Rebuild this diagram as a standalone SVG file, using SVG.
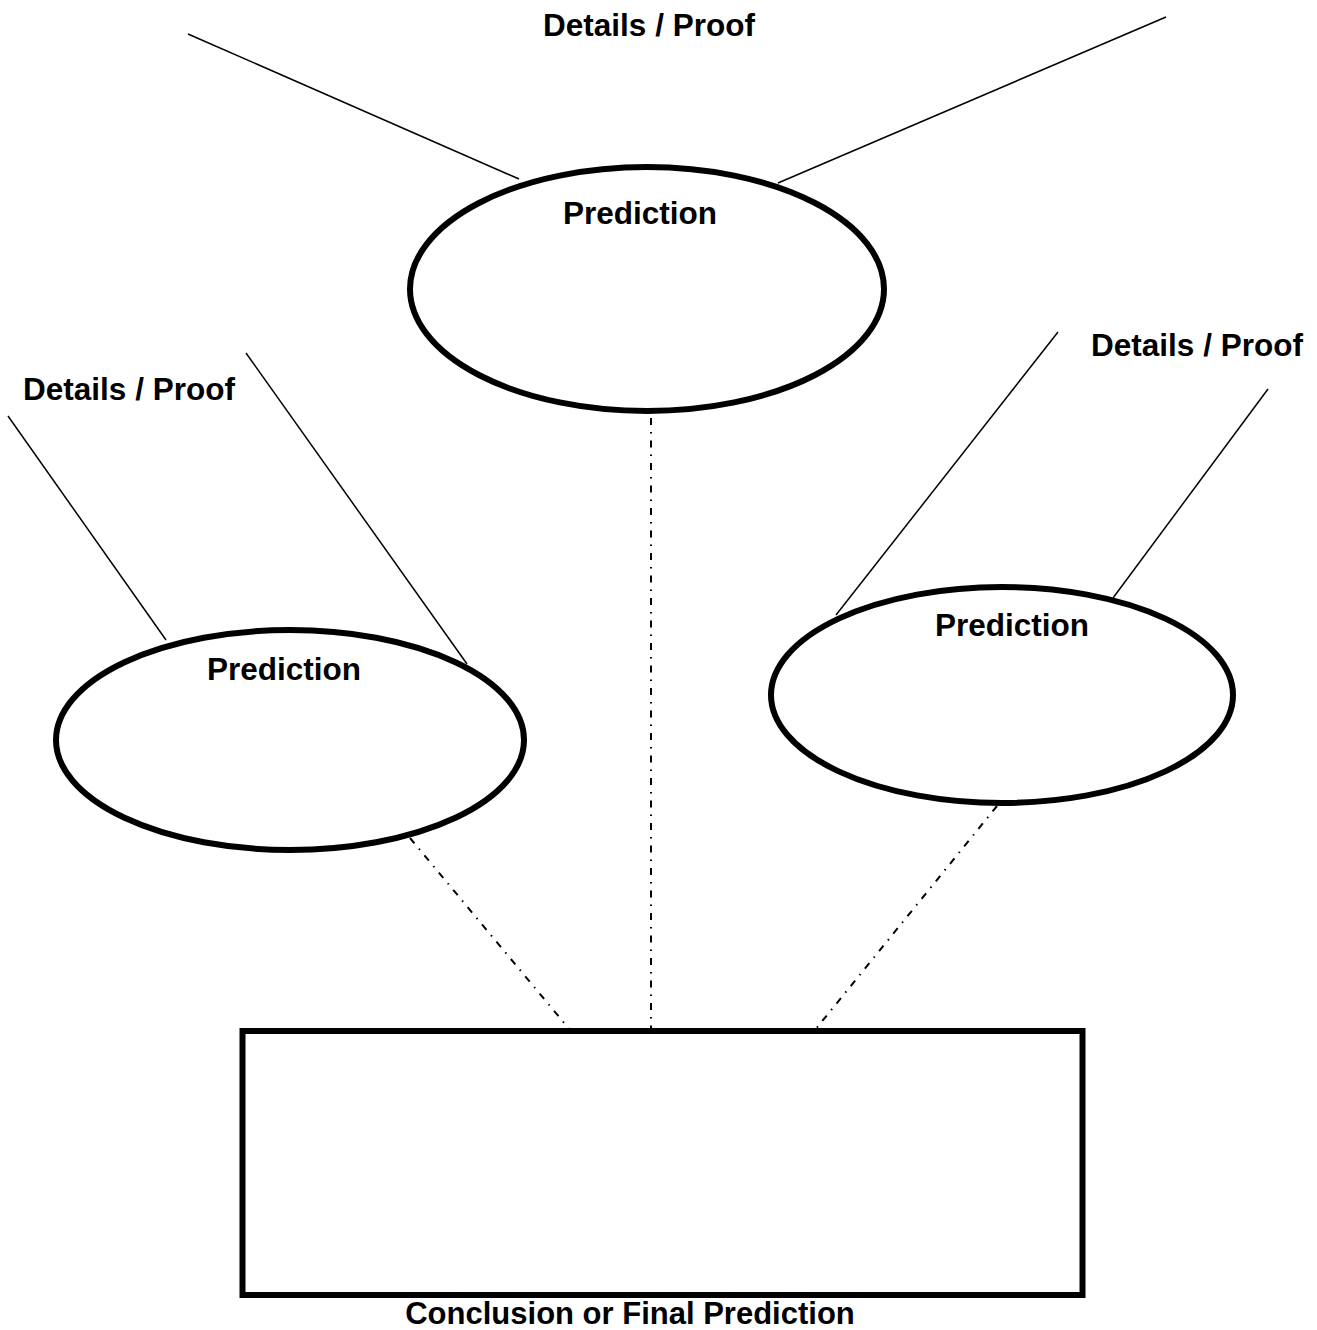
<svg xmlns="http://www.w3.org/2000/svg" width="1317" height="1330" viewBox="0 0 1317 1330">
<style>
.node{fill:#fff;stroke:#000;stroke-width:6}
.ln{stroke:#000;stroke-width:1.5;fill:none}
.dd{stroke:#000;stroke-width:2;fill:none;stroke-dasharray:7 7 1.5 7}
text{font-family:"Liberation Sans",Arial,sans-serif;font-weight:bold;font-size:31.5px;fill:#000}
</style>
<rect width="1317" height="1330" fill="#fff"/>
<g id="connectors">
<line class="ln" x1="188" y1="34" x2="519" y2="179"/>
<line class="ln" x1="1166" y1="17" x2="778" y2="183"/>
<line class="ln" x1="8" y1="416" x2="166" y2="640"/>
<line class="ln" x1="246" y1="353" x2="467" y2="664"/>
<line class="ln" x1="1058" y1="332" x2="836" y2="615"/>
<line class="ln" x1="1268" y1="389" x2="1113" y2="598"/>
<line class="dd" x1="651" y1="418" x2="651" y2="1030"/>
<line class="dd" x1="410" y1="838" x2="570" y2="1030"/>
<line class="dd" x1="997" y1="806" x2="815" y2="1030"/>
</g>
<g id="label-top"><text x="649" y="36" text-anchor="middle">Details / Proof</text></g>
<g id="label-left"><text x="129" y="400" text-anchor="middle">Details / Proof</text></g>
<g id="label-right"><text x="1197" y="356" text-anchor="middle">Details / Proof</text></g>
<g id="pred-top">
<ellipse class="node" cx="647" cy="289" rx="237" ry="122"/>
<text x="640" y="224" text-anchor="middle">Prediction</text>
</g>
<g id="pred-left">
<ellipse class="node" cx="290" cy="740" rx="234" ry="110"/>
<text x="284" y="680" text-anchor="middle">Prediction</text>
</g>
<g id="pred-right">
<ellipse class="node" cx="1002" cy="695" rx="231" ry="108"/>
<text x="1012" y="636" text-anchor="middle">Prediction</text>
</g>
<g id="conclusion">
<rect class="node" x="242.5" y="1031" width="840" height="264"/>
<text x="630" y="1324" text-anchor="middle" style="font-size:31px">Conclusion or Final Prediction</text>
</g>
</svg>
